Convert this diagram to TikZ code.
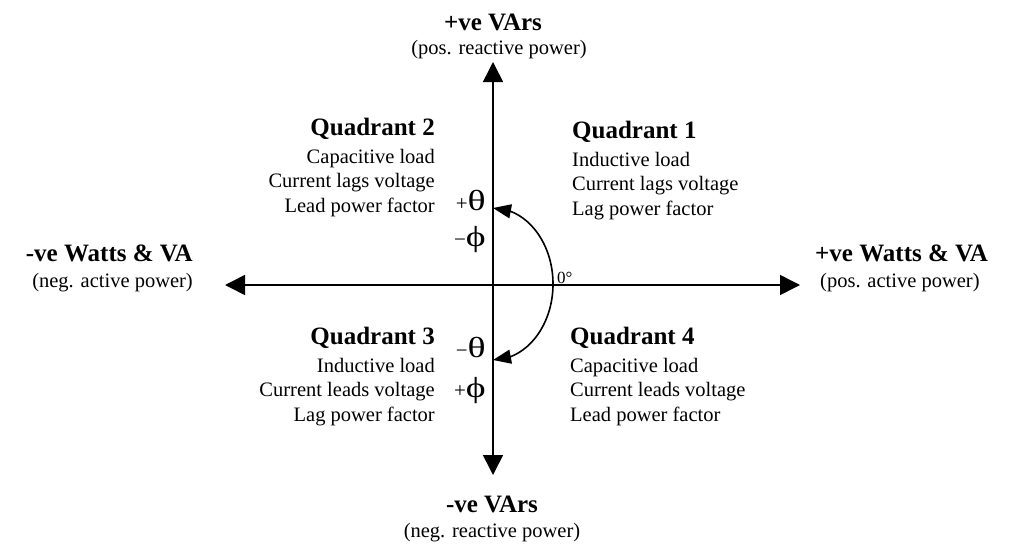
\documentclass[tikz,border=0pt]{standalone}
\usepackage{fontspec}
\setmainfont{Liberation Serif}
\usetikzlibrary{arrows.meta,bending}
\newcommand{\bodyfont}{\fontsize{20.5}{24.5}\selectfont}
\newcommand{\ttlfont}{\fontsize{25}{28}\selectfont\bfseries}
\newcommand{\grkfont}{\fontsize{29}{30}\selectfont}
\newcommand{\sgnfont}{\fontsize{21}{24}\selectfont}
\newcommand{\grk}[1]{\scalebox{1.3}[1]{\grkfont #1}}
\tikzset{
  axis/.style={line width=1.6pt, {Triangle[length=20pt,width=20pt]}-{Triangle[length=20pt,width=20pt]}},
  anglearc/.style={line width=1.6pt, {Triangle[length=18pt,width=14pt,flex]}-{Triangle[length=18pt,width=14pt,flex]}},
  ttl/.style={font=\ttlfont, inner sep=0pt},
  sub/.style={font=\bodyfont, inner sep=0pt},
  quad/.style={font=\bodyfont, inner sep=0pt},
  grklabel/.style={inner sep=0pt, anchor=east},
}
\begin{document}
\begin{tikzpicture}[x=1pt,y=-1pt]
\useasboundingbox (0,0) rectangle (1014,544);
% axes
\coordinate (O) at (493,285);
\coordinate (L) at (225,285);
\coordinate (R) at (800,285);
\coordinate (T) at (493,62);
\coordinate (B) at (493,475);
\draw[axis] (L) -- (R);
\draw[axis] (T) -- (B);
% angle arc
\coordinate (A1) at (493,208);
\coordinate (A2) at (493,360);
\draw[anglearc] (A1) arc[start angle=90, end angle=-90, x radius=60pt, y radius=76pt];
\node[font=\fontsize{17}{20}\selectfont, inner sep=0pt, anchor=base west] (zero) at (557,283) {0°};
% greek labels
\node[grklabel] (pth) at (486,200) {{\sgnfont +}\grk{θ}};
\node[grklabel] (mph) at (486,240) {{\sgnfont −}\grk{ϕ}};
\node[grklabel] (mth) at (486,347) {{\sgnfont −}\grk{θ}};
\node[grklabel] (pph) at (486,391) {{\sgnfont +}\grk{ϕ}};
% axis labels
\node[ttl, anchor=base] (t1) at (493,30) {+ve VArs};
\node[sub, anchor=base] (t2) at (499,54) {(pos. reactive power)};
\node[ttl, anchor=base] (b1) at (492,512) {-ve VArs};
\node[sub, anchor=base] (b2) at (492,537) {(neg. reactive power)};
\node[ttl, anchor=base west] (r1) at (815,261) {+ve Watts \& VA};
\node[sub, anchor=base west] (r2) at (820,287) {(pos. active power)};
\node[ttl, anchor=base east] (l1) at (193,261) {-ve Watts \& VA};
\node[sub, anchor=base east] (l2) at (193,287) {(neg. active power)};
% quadrants (base anchor = last line)
\node[quad, align=left, anchor=base west] (q1) at (572,215)
  {{\ttlfont Quadrant 1}\\[3.5pt]Inductive load\\Current lags voltage\\Lag power factor};
\node[quad, align=right, anchor=base east] (q2) at (435,212)
  {{\ttlfont Quadrant 2}\\[3.5pt]Capacitive load\\Current lags voltage\\Lead power factor};
\node[quad, align=right, anchor=base east] (q3) at (435,421)
  {{\ttlfont Quadrant 3}\\[3.5pt]Inductive load\\Current leads voltage\\Lag power factor};
\node[quad, align=left, anchor=base west] (q4) at (570,421)
  {{\ttlfont Quadrant 4}\\[3.5pt]Capacitive load\\Current leads voltage\\Lead power factor};
\end{tikzpicture}
\end{document}
